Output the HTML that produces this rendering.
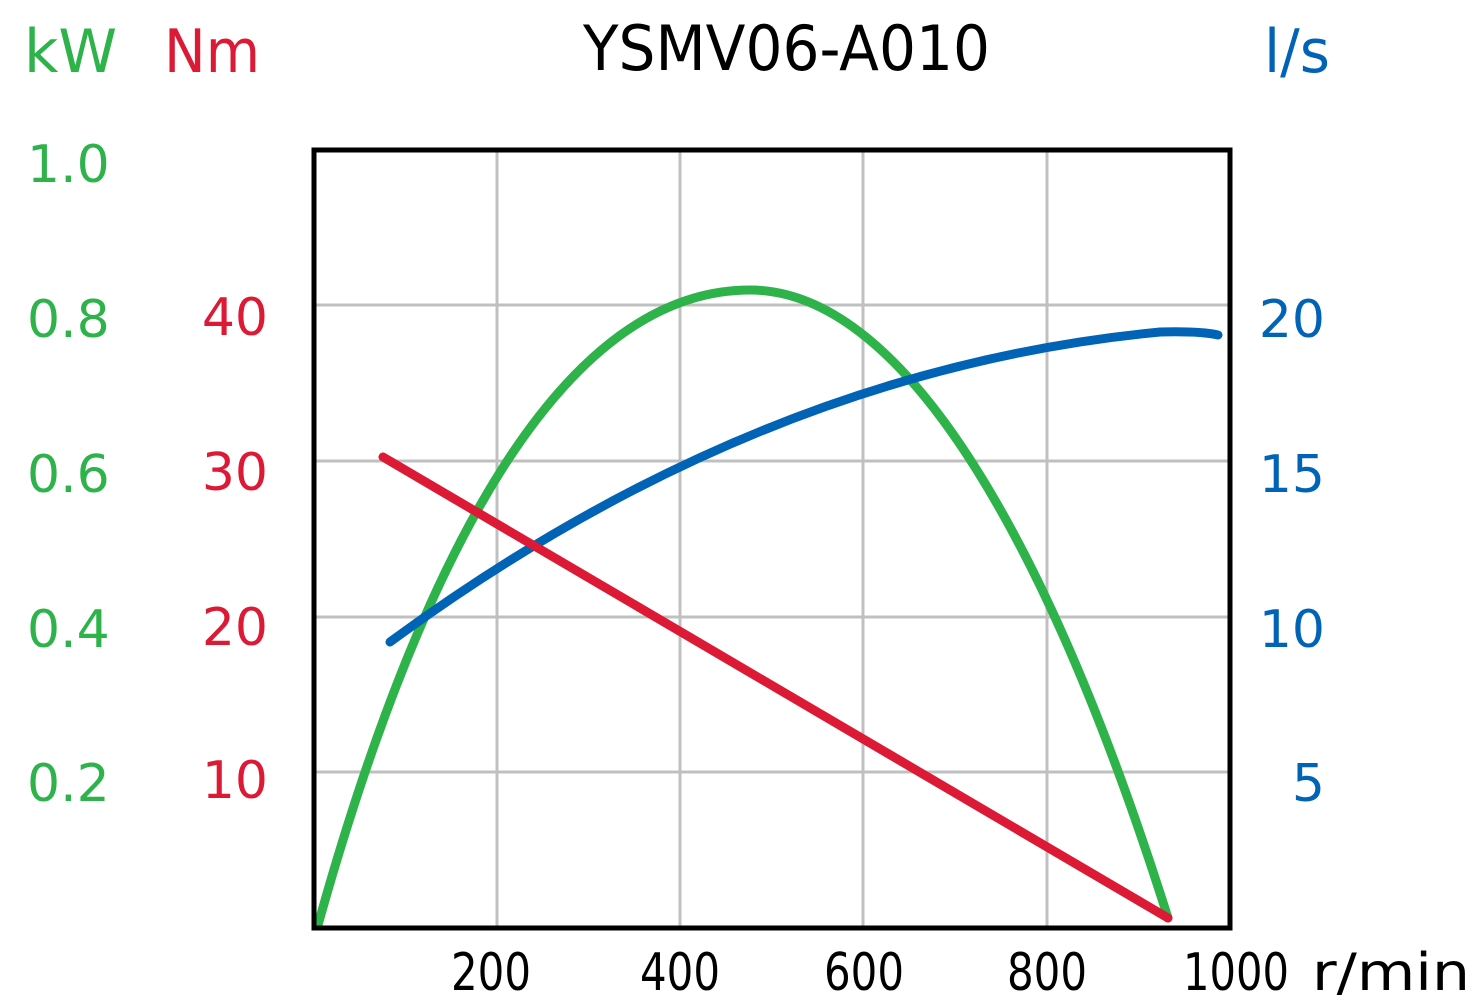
<!DOCTYPE html>
<html><head><meta charset="utf-8"><style>
html,body{margin:0;padding:0;background:#fff;}
svg{display:block;}
text{font-family:"DejaVu Sans","Liberation Sans",sans-serif;}
</style></head><body>
<svg width="1480" height="1005" viewBox="0 0 1480 1005" xmlns="http://www.w3.org/2000/svg">
<rect width="1480" height="1005" fill="#fff"/>
<g stroke="#c0c0c0" stroke-width="3">
<line x1="497" y1="150" x2="497" y2="927"/>
<line x1="680" y1="150" x2="680" y2="927"/>
<line x1="863" y1="150" x2="863" y2="927"/>
<line x1="1047" y1="150" x2="1047" y2="927"/>
<line x1="315" y1="305" x2="1229" y2="305"/>
<line x1="315" y1="461" x2="1229" y2="461"/>
<line x1="315" y1="617" x2="1229" y2="617"/>
<line x1="315" y1="772" x2="1229" y2="772"/>
</g>
<path d="M318,925 C420,560 560,290 750,290 C910,290 1055,560 1168,918" fill="none" stroke="#2db34a" stroke-width="9" stroke-linecap="round"/>
<path d="M390,642 Q760,370 1160,332 Q1200,331 1218,335" fill="none" stroke="#0063b5" stroke-width="9" stroke-linecap="round"/>
<line x1="383" y1="457" x2="1168" y2="918" stroke="#dc1a35" stroke-width="9" stroke-linecap="round"/>
<rect x="314" y="150" width="916" height="778" fill="none" stroke="#000" stroke-width="5"/>
<text x="583" y="70" font-size="62" textLength="407" lengthAdjust="spacingAndGlyphs" fill="#000">YSMV06-A010</text>
<g font-size="52" fill="#2db34a">
<text x="24" y="72" font-size="60" textLength="93" lengthAdjust="spacingAndGlyphs">kW</text>
<text x="27" y="182">1.0</text>
<text x="27" y="337">0.8</text>
<text x="27" y="492">0.6</text>
<text x="27" y="647">0.4</text>
<text x="27" y="801">0.2</text>
</g>
<g font-size="52" fill="#dc1a35">
<text x="164" y="72" font-size="60" textLength="96" lengthAdjust="spacingAndGlyphs">Nm</text>
<text x="268" y="335" text-anchor="end">40</text>
<text x="268" y="490" text-anchor="end">30</text>
<text x="268" y="645" text-anchor="end">20</text>
<text x="268" y="798" text-anchor="end">10</text>
</g>
<g font-size="52" fill="#0063b5">
<text x="1264" y="72" font-size="60" textLength="66" lengthAdjust="spacingAndGlyphs">l/s</text>
<text x="1325" y="337" text-anchor="end">20</text>
<text x="1325" y="492" text-anchor="end">15</text>
<text x="1325" y="647" text-anchor="end">10</text>
<text x="1325" y="801" text-anchor="end">5</text>
</g>
<g font-size="52" fill="#000">
<text x="451" y="990" textLength="80" lengthAdjust="spacingAndGlyphs">200</text>
<text x="640" y="990" textLength="80" lengthAdjust="spacingAndGlyphs">400</text>
<text x="824" y="990" textLength="80" lengthAdjust="spacingAndGlyphs">600</text>
<text x="1007" y="990" textLength="80" lengthAdjust="spacingAndGlyphs">800</text>
<text x="1183" y="990" textLength="106" lengthAdjust="spacingAndGlyphs">1000</text>
<text x="1312" y="990" textLength="158" lengthAdjust="spacingAndGlyphs">r/min</text>
</g>
</svg>
</body></html>
